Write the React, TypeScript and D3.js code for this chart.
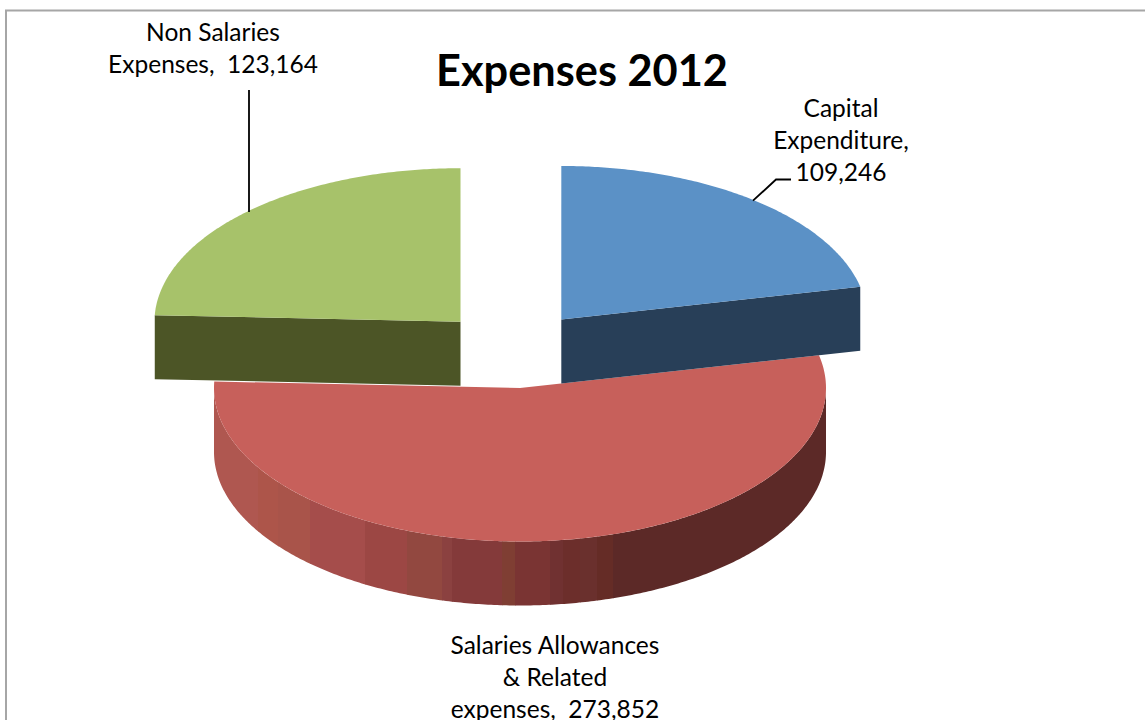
import React from "react";
import * as d3 from "d3";

const categories = ["Capital Expenditure", "Salaries Allowances & Related expenses", "Non Salaries Expenses"];
const values = [109246, 273852, 123164];

const W = 1145, H = 720;
const RX = 306, RY = 153.5, DEPTH = 64;
const FONT = "Lato, 'Open Sans', sans-serif";

const topColors = ["#5b91c6", "#c7605b", "#a7c26a"];
const wallColors = ["#283f58", "#5c2927", "#4c5526"];
const centers: [number, number][] = [[561.3, 319.5], [520, 388], [460.5, 321.7]];

// Facets of the shaded outer wall of the large slice: right edge of each facet, and its colour
const wallBandEnds = [258, 278, 310, 365, 407, 442, 452, 502, 515, 550, 563, 580, 597, 613, 830];
const wallBandColors = ["#af5750", "#ad554a", "#a9544a", "#a54d4b", "#9c4744", "#924840", "#8b4140", "#843a3a", "#7f3e33", "#7a3433", "#703131", "#6c2e2b", "#6a302d", "#652c26", "#5c2927"];

const fmt = d3.format(",");
const labelLines = [
  { lines: ["Capital", "Expenditure,", fmt(values[0])], x: 841, y: 117 },
  { lines: ["Salaries Allowances", "& Related", `expenses,  ${fmt(values[1])}`], x: 555, y: 654 },
  { lines: ["Non Salaries", `Expenses,  ${fmt(values[2])}`], x: 213, y: 41 },
];

const arcs = d3.pie<number>().sort(null).startAngle(0).endAngle(2 * Math.PI)(values);

const pt = (c: [number, number], a: number, dy = 0): [number, number] => [
  c[0] + RX * Math.sin(a),
  c[1] - RY * Math.cos(a) + dy,
];
const samples = (a0: number, a1: number) => {
  const n = Math.max(2, Math.ceil(Math.abs(a1 - a0) / 0.01));
  return d3.range(n + 1).map((i) => a0 + ((a1 - a0) * i) / n);
};
const line = d3.line<[number, number]>();

export default function App() {
  const redC = centers[1];
  const wa0 = Math.PI / 2, wa1 = (3 * Math.PI) / 2;
  const wallPts: [number, number][] = [
    ...samples(wa0, wa1).map((a) => pt(redC, a)),
    ...samples(wa1, wa0).map((a) => pt(redC, a, DEPTH)),
  ];
  const order = [1, 2, 0];
  return (
    <svg width={W} height={H} style={{ position: "absolute", left: 0, top: 0, display: "block", background: "#fff" }}>
      <defs>
        <clipPath id="wall"><path d={line(wallPts) + "Z"} /></clipPath>
      </defs>
      <path d={`M1145,10.5H6V720`} fill="none" stroke="#a6a6a6" strokeWidth={2} />

      <g clipPath="url(#wall)">
        {wallBandEnds.map((end, i) => {
          const start = i === 0 ? 200 : wallBandEnds[i - 1];
          return <rect key={i} x={start} y={340} width={end - start + 0.5} height={300} fill={wallBandColors[i]} />;
        })}
      </g>

      {order.map((i) => {
        const d = arcs[i];
        const c = centers[i];
        const p0 = pt(c, d.startAngle), p1 = pt(c, d.endAngle);
        const wallEdge = i === 0 ? p1 : p0;
        const topPts: [number, number][] = [c, ...samples(d.startAngle, d.endAngle).map((a) => pt(c, a))];
        return (
          <g key={i}>
            {i !== 1 && (
              <path
                d={line([c, wallEdge, [wallEdge[0], wallEdge[1] + DEPTH], [c[0], c[1] + DEPTH]]) + "Z"}
                fill={wallColors[i]}
              />
            )}
            <path d={line(topPts) + "Z"} fill={topColors[i]} />
          </g>
        );
      })}

      <path d="M249,90V212" fill="none" stroke="#000" strokeWidth={1.8} />
      <path d="M753,200.7L776,179.5H791" fill="none" stroke="#000" strokeWidth={1.8} />

      <text x={582} y={86} textAnchor="middle" fontFamily={FONT} fontWeight={700} fontSize={43.3} fill="#000">
        Expenses 2012
      </text>
      {labelLines.map((l, i) => (
        <text key={i} textAnchor="middle" fontFamily={FONT} fontSize={24.5} fill="#000" style={{ whiteSpace: "pre" }}>
          {l.lines.map((s, j) => (
            <tspan key={j} x={l.x} y={l.y + j * 32}>{s}</tspan>
          ))}
        </text>
      ))}
    </svg>
  );
}
